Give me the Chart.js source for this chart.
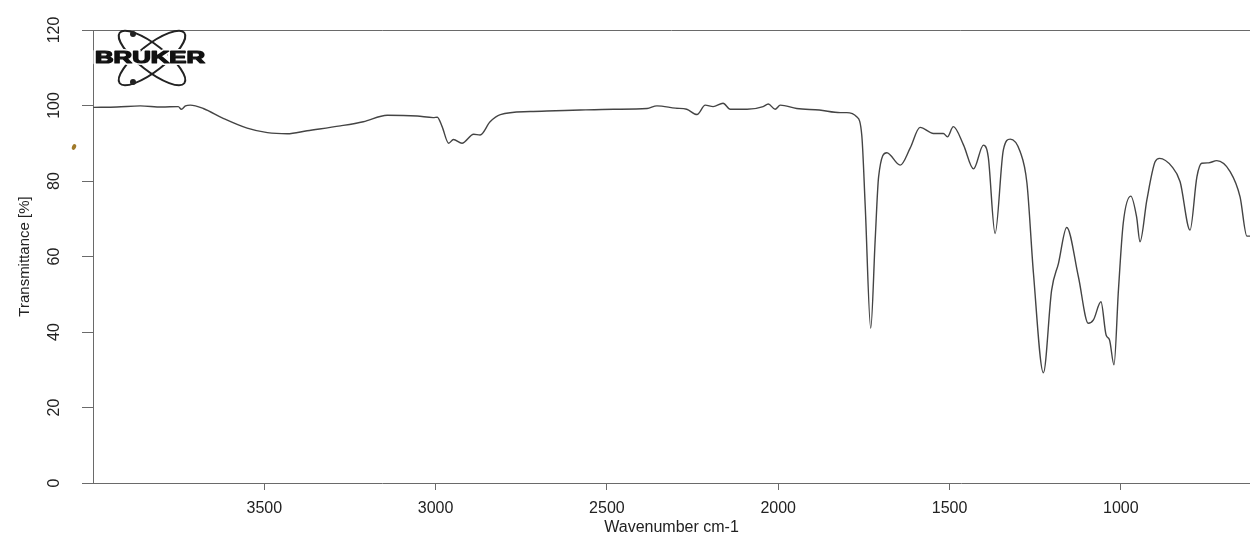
<!DOCTYPE html>
<html><head><meta charset="utf-8">
<script src="https://cdn.jsdelivr.net/npm/chart.js@4.4.0/dist/chart.umd.min.js"></script>
<style>html,body{margin:0;padding:0;background:#fff}#wrap{width:1250px;height:539px;position:relative}</style>
</head><body><div id="wrap"><canvas id="c" width="1250" height="539"></canvas></div>
<script>
const wavenumbers = [3999,3930,3862,3800,3751,3742,3730,3716,3678,3620,3550,3491,3433,3375,3278,3211,3141,3054,3007,2995,2981,2962,2948,2923,2889,2870,2841,2811,2724,2650,2578,2480,2383,2354,2300,2267,2237,2213,2190,2161,2140,2091,2044,2029,2009,1994,1946,1880,1819,1800,1771,1756,1746,1730,1717,1707,1683,1644,1615,1586,1547,1518,1506,1489,1459,1430,1401,1387,1367,1343,1323,1294,1274,1255,1226,1202,1182,1158,1124,1095,1080,1058,1043,1033,1020,1007,993,971,954,944,924,900,887,851,827,798,778,764,744,720,681,652,632,623];
const transmittance = [99.5,99.6,99.9,99.6,99.7,99.0,99.9,100.1,99.2,96.6,94.0,92.8,92.5,93.3,94.6,95.7,97.4,97.2,96.8,96.9,94.4,90.0,91.0,90.0,92.4,92.2,95.7,97.6,98.4,98.6,98.8,99.0,99.2,99.9,99.3,99.0,97.6,100.1,99.7,100.6,99.0,99.0,99.7,100.4,99.0,100.1,99.2,98.8,98.1,98.1,97.0,92.0,73.2,41.0,64.4,81.1,87.5,84.2,88.7,94.2,92.6,92.6,91.7,94.4,89.5,83.2,89.5,86.4,66.1,88.2,91.1,87.8,79.4,55.5,29.2,51.1,58.2,67.7,54.7,42.3,43.2,48.0,39.2,37.9,31.3,51.1,68.8,76.0,70.5,63.9,75.0,85.1,86.0,83.8,79.8,67.0,81.1,84.7,84.8,85.4,82.5,75.8,65.4,65.4];
const xTickValues = [3500,3000,2500,2000,1500,1000];
const yTickValues = [0,20,40,60,80,100,120];
const xTitle = 'Wavenumber cm-1';
const yTitle = 'Transmittance [%]';
const logoText = 'BRUKER';

const points = wavenumbers.map((w, i) => ({x: w, y: transmittance[i]}));
const axisColor = '#6a6a6a';
const FONT = 'Liberation Sans, Arial, sans-serif';

const extras = {
  id: 'extras',
  afterDraw(chart) {
    const {ctx, chartArea: a} = chart;
    ctx.save();
    // top frame line
    ctx.strokeStyle = axisColor;
    ctx.lineWidth = 1;
    ctx.beginPath();
    ctx.moveTo(a.left, a.top + 0.5);
    ctx.lineTo(a.right, a.top + 0.5);
    ctx.stroke();
    // logo
    const cx = a.left + 59, cy = a.top + 28;
    ctx.strokeStyle = '#222';
    ctx.lineWidth = 2;
    [38, -38].forEach(deg => {
      ctx.beginPath();
      ctx.ellipse(cx, cy, 41, 13, deg * Math.PI / 180, 0, Math.PI * 2);
      ctx.stroke();
    });
    ctx.fillStyle = '#222';
    [[cx - 19, cy - 24], [cx - 19, cy + 24]].forEach(p => {
      ctx.beginPath(); ctx.arc(p[0], p[1], 3, 0, Math.PI * 2); ctx.fill();
    });
    ctx.font = 'bold 16px ' + FONT;
    ctx.textBaseline = 'middle';
    ctx.textAlign = 'left';
    const tw = ctx.measureText(logoText).width;
    ctx.translate(a.left + 2, cy + 1);
    ctx.scale(110 / tw, 1);
    ctx.lineJoin = 'round';
    ctx.lineWidth = 4;
    ctx.strokeStyle = '#fff';
    ctx.strokeText(logoText, 0, 0);
    ctx.lineWidth = 1.2;
    ctx.strokeStyle = '#111';
    ctx.strokeText(logoText, 0, 0);
    ctx.fillStyle = '#111';
    ctx.fillText(logoText, 0, 0);
    ctx.setTransform(1, 0, 0, 1, 0, 0);
    // small scan speck
    ctx.fillStyle = '#a07a2a';
    ctx.beginPath(); ctx.ellipse(74, 147, 2, 3, 0.4, 0, Math.PI * 2); ctx.fill();
    ctx.restore();
  }
};

new Chart(document.getElementById('c'), {
  type: 'line',
  data: { datasets: [{
    data: points,
    borderColor: '#444',
    borderWidth: 1.4,
    pointRadius: 0,
    fill: false,
    cubicInterpolationMode: 'monotone'
  }]},
  options: {
    responsive: false,
    animation: false,
    layout: { padding: { top: 30, right: 0, left: 0, bottom: 0 } },
    plugins: { legend: { display: false }, tooltip: { enabled: false } },
    scales: {
      x: {
        type: 'linear',
        reverse: true,
        min: 623,
        max: 4000,
        afterBuildTicks: s => { s.ticks = xTickValues.map(v => ({value: v})); },
        afterFit: s => { s.height = 56; },
        grid: { drawOnChartArea: false, drawTicks: true, tickLength: 7, color: axisColor },
        border: { color: axisColor, width: 1 },
        ticks: { color: '#222', font: { family: FONT, size: 16 }, padding: 9, maxRotation: 0, autoSkip: false, callback: v => String(v) },
        title: { display: true, text: xTitle, color: '#222', font: { family: FONT, size: 16 }, padding: { top: 0, bottom: 2 } }
      },
      y: {
        min: 0,
        max: 120,
        afterBuildTicks: s => { s.ticks = yTickValues.map(v => ({value: v})); },
        afterFit: s => { s.width = 93; },
        grid: { drawOnChartArea: false, drawTicks: true, tickLength: 11, color: axisColor },
        border: { color: axisColor, width: 1 },
        ticks: { color: '#222', font: { family: FONT, size: 16 }, padding: 14, minRotation: 90, maxRotation: 90, crossAlign: 'center', callback: v => String(v) },
        title: { display: true, text: yTitle, color: '#222', font: { family: FONT, size: 15 }, padding: { top: 16, bottom: 0 } }
      }
    }
  },
  plugins: [extras]
});
</script>
</body></html>
